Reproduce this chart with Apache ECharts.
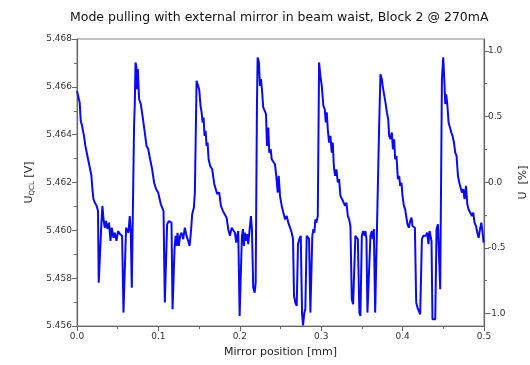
<!DOCTYPE html>
<html>
<head>
<meta charset="utf-8">
<script src="https://cdn.jsdelivr.net/npm/echarts@6/dist/echarts.min.js"></script>
<style>
  html, body { margin: 0; padding: 0; background: #fff; }
  #chart { width: 530px; height: 365px; }
</style>
</head>
<body>
<div id="chart"></div>
<script>
// mirror position [mm]
const positions = [
  0.0000, 0.0033, 0.0046, 0.0062, 0.0086, 0.0103, 0.0128, 0.0153, 0.0177, 0.0189,
  0.0202, 0.0218, 0.0242, 0.0258, 0.0267, 0.0283, 0.0300, 0.0312, 0.0328, 0.0341,
  0.0357, 0.0374, 0.0394, 0.0411, 0.0427, 0.0448, 0.0464, 0.0485, 0.0504, 0.0529,
  0.0554, 0.0571, 0.0587, 0.0603, 0.0620, 0.0632, 0.0648, 0.0661, 0.0673, 0.0685,
  0.0701, 0.0710, 0.0719, 0.0731, 0.0738, 0.0747, 0.0763, 0.0784, 0.0805, 0.0833,
  0.0854, 0.0874, 0.0898, 0.0923, 0.0947, 0.0972, 0.0997, 0.1030, 0.1063, 0.1079,
  0.1091, 0.1107, 0.1128, 0.1149, 0.1161, 0.1174, 0.1186, 0.1198, 0.1211, 0.1223,
  0.1235, 0.1251, 0.1267, 0.1284, 0.1304, 0.1325, 0.1346, 0.1366, 0.1383, 0.1399,
  0.1415, 0.1436, 0.1448, 0.1469, 0.1485, 0.1501, 0.1518, 0.1531, 0.1543, 0.1555,
  0.1567, 0.1580, 0.1592, 0.1604, 0.1617, 0.1636, 0.1661, 0.1686, 0.1706, 0.1722,
  0.1747, 0.1768, 0.1793, 0.1817, 0.1838, 0.1858, 0.1879, 0.1900, 0.1924, 0.1940,
  0.1956, 0.1968, 0.1981, 0.1998, 0.2010, 0.2026, 0.2039, 0.2051, 0.2063, 0.2079,
  0.2091, 0.2104, 0.2121, 0.2137, 0.2149, 0.2165, 0.2183, 0.2195, 0.2211, 0.2219,
  0.2235, 0.2248, 0.2260, 0.2272, 0.2288, 0.2306, 0.2322, 0.2334, 0.2350, 0.2362,
  0.2380, 0.2392, 0.2412, 0.2432, 0.2448, 0.2466, 0.2478, 0.2494, 0.2515, 0.2534,
  0.2555, 0.2576, 0.2596, 0.2617, 0.2638, 0.2654, 0.2666, 0.2682, 0.2699, 0.2715,
  0.2731, 0.2749, 0.2765, 0.2777, 0.2793, 0.2805, 0.2822, 0.2838, 0.2851, 0.2867,
  0.2879, 0.2891, 0.2904, 0.2916, 0.2928, 0.2940, 0.2958, 0.2974, 0.2990, 0.3007,
  0.3027, 0.3044, 0.3056, 0.3068, 0.3081, 0.3097, 0.3113, 0.3130, 0.3142, 0.3155,
  0.3171, 0.3187, 0.3204, 0.3220, 0.3236, 0.3257, 0.3278, 0.3294, 0.3310, 0.3327,
  0.3343, 0.3359, 0.3376, 0.3392, 0.3408, 0.3420, 0.3438, 0.3450, 0.3469, 0.3482,
  0.3499, 0.3515, 0.3531, 0.3543, 0.3556, 0.3568, 0.3585, 0.3605, 0.3622, 0.3634,
  0.3647, 0.3663, 0.3687, 0.3712, 0.3728, 0.3745, 0.3758, 0.3774, 0.3790, 0.3807,
  0.3823, 0.3835, 0.3851, 0.3868, 0.3881, 0.3896, 0.3909, 0.3925, 0.3942, 0.3958,
  0.3970, 0.3986, 0.3999, 0.4016, 0.4032, 0.4044, 0.4060, 0.4077, 0.4093, 0.4109,
  0.4122, 0.4139, 0.4151, 0.4167, 0.4183, 0.4200, 0.4216, 0.4237, 0.4253, 0.4269,
  0.4286, 0.4302, 0.4318, 0.4331, 0.4343, 0.4355, 0.4367, 0.4385, 0.4401, 0.4417,
  0.4434, 0.4450, 0.4462, 0.4483, 0.4499, 0.4512, 0.4524, 0.4536, 0.4549, 0.4565,
  0.4582, 0.4598, 0.4614, 0.4631, 0.4647, 0.4663, 0.4680, 0.4696, 0.4712, 0.4729,
  0.4745, 0.4761, 0.4779, 0.4795, 0.4810, 0.4831, 0.4852, 0.4868, 0.4884, 0.4902,
  0.4918, 0.4934, 0.4951, 0.4967, 0.4983, 0.4995
]

// U_QCL [V]
const voltages = [
  5.46583, 5.46534, 5.46458, 5.46437, 5.46395, 5.46353, 5.46311, 5.46269, 5.46228, 5.46173,
  5.46131, 5.46116, 5.46102, 5.46081, 5.45781, 5.45776, 5.46032, 5.46102, 5.46039, 5.46011,
  5.46039, 5.46006, 5.46032, 5.45956, 5.46011, 5.45969, 5.45990, 5.45956, 5.45997, 5.45984,
  5.45977, 5.45656, 5.45663, 5.46011, 5.46018, 5.45990, 5.46060, 5.45990, 5.45760, 5.45760,
  5.46437, 5.46528, 5.46702, 5.46681, 5.46590, 5.46674, 5.46549, 5.46528, 5.46479, 5.46409,
  5.46353, 5.46341, 5.46297, 5.46256, 5.46200, 5.46172, 5.46158, 5.46109, 5.46081, 5.45698,
  5.45698, 5.46025, 5.46039, 5.46046, 5.46032, 5.45670, 5.45675, 5.45921, 5.45977, 5.45935,
  5.45990, 5.45935, 5.45977, 5.45990, 5.45963, 5.46011, 5.45977, 5.45956, 5.45935, 5.45990,
  5.46067, 5.46095, 5.46158, 5.46625, 5.46620, 5.46590, 5.46520, 5.46493, 5.46451, 5.46472,
  5.46395, 5.46416, 5.46353, 5.46367, 5.46297, 5.46269, 5.46255, 5.46194, 5.46201, 5.46152,
  5.46159, 5.46102, 5.46081, 5.46088, 5.46053, 5.46005, 5.45977, 5.46011, 5.46018, 5.45990,
  5.45949, 5.45977, 5.45997, 5.45642, 5.45635, 5.45977, 5.46005, 5.45935, 5.45990, 5.45956,
  5.45984, 5.45942, 5.46005, 5.46060, 5.46005, 5.45760, 5.45739, 5.45781, 5.46534, 5.46723,
  5.46702, 5.46604, 5.46632, 5.46590, 5.46513, 5.46500, 5.46486, 5.46353, 5.46430, 5.46325,
  5.46339, 5.46297, 5.46304, 5.46276, 5.46228, 5.46158, 5.46228, 5.46144, 5.46102, 5.46095,
  5.46046, 5.46060, 5.46032, 5.46039, 5.45990, 5.45963, 5.45726, 5.45698, 5.45684, 5.45942,
  5.45963, 5.45977, 5.45649, 5.45602, 5.45656, 5.45670, 5.45977, 5.45984, 5.45963, 5.45656,
  5.45656, 5.45977, 5.46005, 5.45990, 5.46046, 5.46032, 5.46060, 5.46702, 5.46646, 5.46604,
  5.46520, 5.46506, 5.46451, 5.46493, 5.46423, 5.46367, 5.46395, 5.46325, 5.46367, 5.46269,
  5.46228, 5.46255, 5.46200, 5.46214, 5.46144, 5.46130, 5.46137, 5.46102, 5.46116, 5.46060,
  5.46046, 5.46018, 5.45712, 5.45691, 5.45698, 5.45977, 5.45984, 5.45963, 5.45656, 5.45642,
  5.45977, 5.45997, 5.45977, 5.45997, 5.45963, 5.45656, 5.45656, 5.45977, 5.45997, 5.45963,
  5.46005, 5.45656, 5.45656, 5.46437, 5.46653, 5.46632, 5.46597, 5.46590, 5.46534, 5.46493,
  5.46465, 5.46395, 5.46381, 5.46409, 5.46339, 5.46381, 5.46297, 5.46311, 5.46214, 5.46228,
  5.46186, 5.46199, 5.46144, 5.46102, 5.46088, 5.46060, 5.46025, 5.46011, 5.46039, 5.46053,
  5.46018, 5.46025, 5.46011, 5.45698, 5.45677, 5.45684, 5.45649, 5.45963, 5.45977, 5.45984,
  5.45977, 5.45990, 5.45942, 5.45997, 5.45977, 5.45956, 5.45628, 5.45621, 5.45628, 5.46005,
  5.46025, 5.46032, 5.45754, 5.46632, 5.46723, 5.46632, 5.46528, 5.46569, 5.46528, 5.46451,
  5.46430, 5.46409, 5.46395, 5.46367, 5.46325, 5.46311, 5.46228, 5.46200, 5.46207, 5.46158,
  5.46172, 5.46130, 5.46186, 5.46109, 5.46088, 5.46081, 5.46060, 5.46074, 5.46032, 5.46018,
  5.45990, 5.45969, 5.46005, 5.46032, 5.45990, 5.45949
]

const xTicks = [0, 0.1, 0.2, 0.3, 0.4, 0.5]
const leftTicks = [5.456, 5.458, 5.460, 5.462, 5.464, 5.466, 5.468]
const rightTicks = [-1.0, -0.5, 0.0, 0.5, 1.0]
const rightMinorTicks = [-0.75, -0.25, 0.25, 0.75]

const font = 'DejaVu Sans'
const axisColor = '#666'
const labelStyle = { fontFamily: font, fontSize: 9, color: '#333' }

const chart = echarts.init(document.getElementById('chart'))

chart.setOption({
  animation: false,
  title: {
    text: 'Mode pulling with external mirror in beam waist, Block 2 @ 270mA',
    left: 65,
    top: 6,
    textStyle: { fontFamily: font, fontSize: 12.5, fontWeight: 'normal', color: '#111' }
  },
  grid: {
    left: 77,
    right: 46,
    top: 39,
    bottom: 39,
    outerBoundsMode: 'none',
    show: true,
    borderColor: '#888',
    borderWidth: 1
  },
  xAxis: {
    type: 'value',
    min: xTicks[0],
    max: xTicks[xTicks.length - 1],
    interval: 0.1,
    name: 'Mirror position [mm]',
    nameLocation: 'middle',
    nameGap: 21,
    nameTextStyle: { fontFamily: font, fontSize: 11, color: '#222' },
    axisLine: { onZero: false, lineStyle: { color: axisColor, width: 1.2 } },
    axisTick: { length: 5, lineStyle: { color: axisColor } },
    minorTick: { show: true, splitNumber: 2, length: 3, lineStyle: { color: axisColor } },
    splitLine: { show: false },
    axisLabel: Object.assign({ margin: 6, formatter: v => v.toFixed(1) }, labelStyle)
  },
  yAxis: [{
    type: 'value',
    position: 'left',
    min: leftTicks[0],
    max: leftTicks[leftTicks.length - 1],
    interval: 0.002,
    name: '{u|U}{s|QCL}{u| [V]}',
    nameLocation: 'middle',
    nameRotate: 90,
    nameGap: 40,
    nameTextStyle: {
      rich: {
        u: { fontFamily: font, fontSize: 11, color: '#222' },
        s: { fontFamily: font, fontSize: 7, color: '#222', verticalAlign: 'bottom', padding: [6, 0, 0, 0] }
      }
    },
    axisLine: { show: true, onZero: false, lineStyle: { color: axisColor, width: 1.2 } },
    axisTick: { length: 5, lineStyle: { color: axisColor } },
    minorTick: { show: true, splitNumber: 2, length: 3, lineStyle: { color: axisColor } },
    splitLine: { show: false },
    axisLabel: Object.assign({ margin: 5, formatter: v => v.toFixed(3) }, labelStyle)
  }, {
    type: 'value',
    position: 'right',
    min: -1.095,
    max: 1.09,
    name: 'U  [%]',
    nameLocation: 'middle',
    nameRotate: 90,
    nameGap: 34,
    nameTextStyle: { fontFamily: font, fontSize: 11, color: '#222' },
    axisLine: { show: true, onZero: false, lineStyle: { color: axisColor, width: 1.2 } },
    axisTick: { length: 5, customValues: rightTicks, lineStyle: { color: axisColor } },
    splitLine: { show: false },
    axisLabel: Object.assign({ margin: 4, customValues: rightTicks, formatter: v => v.toFixed(1) }, labelStyle)
  }, {
    type: 'value',
    position: 'right',
    min: -1.095,
    max: 1.09,
    axisLine: { show: false, onZero: false },
    axisTick: { length: 3, customValues: rightMinorTicks, lineStyle: { color: axisColor } },
    splitLine: { show: false },
    axisLabel: { show: false, customValues: rightMinorTicks }
  }],
  series: [{
    type: 'line',
    yAxisIndex: 0,
    showSymbol: false,
    data: positions.map((x, i) => [x, voltages[i]]),
    lineStyle: { color: '#0a0af0', width: 2 },
    itemStyle: { color: '#0a0af0' }
  }]
})
</script>
</body>
</html>
